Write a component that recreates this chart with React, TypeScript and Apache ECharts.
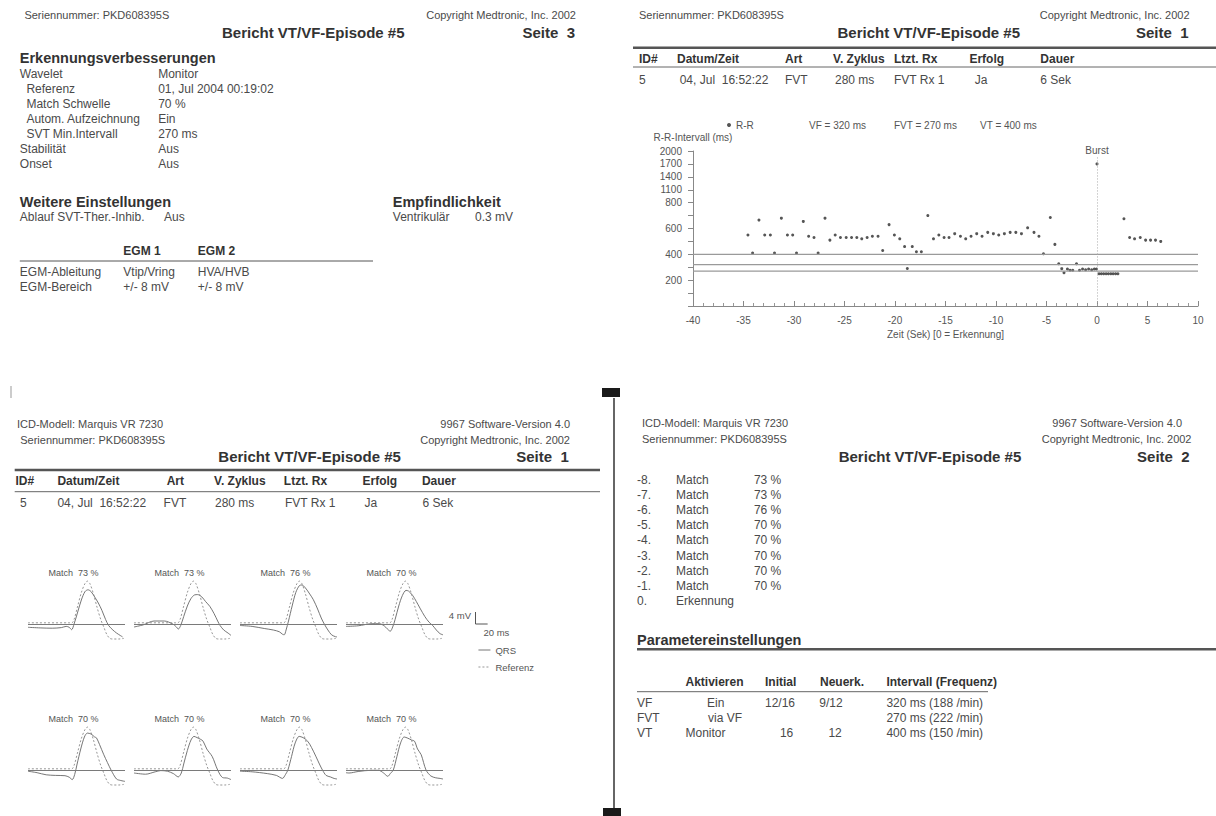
import React, { useEffect, useRef } from "react";
import * as echarts from "echarts";

// ---------- R-R interval plot data ----------
const rrTime = [
  -34.56, -34.1, -33.47, -32.9, -32.34, -31.93, -31.25, -30.65, -30.13, -29.75,
  -29.08, -28.55, -28.02, -27.61, -26.93, -26.45, -25.92, -25.4, -24.83, -24.3,
  -23.78, -23.29, -22.76, -22.24, -21.68, -21.22, -20.59, -20.06, -19.53, -19.05,
  -18.78, -18.29, -17.88, -17.39, -16.75, -16.19, -15.66, -15.14, -14.65, -14.09,
  -13.52, -13.0, -12.47, -11.91, -11.38, -10.82, -10.26, -9.73, -9.17, -8.6,
  -8.04, -7.48, -6.87, -6.24, -5.75, -5.3, -4.62, -4.17, -3.79, -3.49,
  -3.27, -2.93, -2.67, -2.4, -2.03, -1.73, -1.43, -1.13, -0.83, -0.53,
  -0.26, -0.04, 0.0, 0.2, 0.43, 0.66, 0.9, 1.13, 1.37, 1.6,
  1.84, 2.07, 2.67, 3.23, 3.72, 4.28, 4.81, 5.3, 5.79, 6.31,
];
const rrValue = [
  550, 410, 665, 550, 550, 410, 680, 550, 550, 410,
  655, 540, 530, 410, 680, 510, 550, 530, 530, 530,
  530, 520, 530, 540, 540, 430, 630, 550, 520, 460,
  290, 460, 420, 420, 700, 520, 550, 530, 530, 560,
  540, 520, 540, 560, 540, 570, 560, 550, 560, 570,
  570, 560, 605, 570, 540, 405, 685, 477, 327, 289,
  257, 286, 277, 277, 327, 277, 287, 280, 287, 280,
  287, 287, 1700, 250, 250, 250, 250, 250, 250, 250,
  250, 250, 675, 530, 520, 530, 510, 510, 510, 500,
];
const thresholdNames = ["VF = 320 ms", "FVT = 270 ms", "VT = 400 ms"];
const thresholdValues = [320, 270, 400];
const rrTickLabels = [200, 400, 600, 800, 1100, 1400, 1700, 2000];
const burstTime = 0;

// ---------- Wavelet match data ----------
const matchPercents = [73, 73, 76, 70, 70, 70, 70, 70];
const matchIndex = ["-8.", "-7.", "-6.", "-5.", "-4.", "-3.", "-2.", "-1."];

const referenceWave = [
  [0, 0.4], [68, 0.4], [72, 0.3], [76, 1.5], [82, 6], [88, 10.5], [94, 13.5],
  [98, 14.3], [102, 13.5], [108, 10], [114, 5.5], [120, 1.5], [125, -1],
  [130, -3.5], [135, -4.8], [140, -5], [150, -5], [158, -4.8],
];
const qrs1 = [
  [0, -1.1], [20, -1.3], [40, -1.4], [55, -1.2], [63, -0.8], [68, -1.1], [72, -1.9],
  [76, 0], [82, 4], [88, 8], [94, 10.8], [99, 11.4], [104, 10.8], [110, 9],
  [116, 7], [122, 4.5], [128, 1.5], [133, -0.5], [140, -2], [146, -3], [152, -3.8], [156, -4.3],
];
const qrs2 = [
  [0, -1.0], [15, -0.3], [33, 1.0], [50, 1.0], [64, 0], [70, -1.0], [73, -1.7],
  [77, -0.5], [82, 2.5], [88, 6], [94, 8.5], [100, 9.7], [105, 9.8], [112, 9],
  [118, 7.5], [125, 5.9], [132, 3.5], [138, 1], [142, -0.5], [148, -2], [155, -3], [160, -3.8],
];
const qrs3 = [
  [0, -0.5], [20, -0.8], [40, -1.5], [55, -2.0], [65, -2.6], [70, -3.4], [73, -3.6],
  [76, -2], [80, 1], [86, 6], [92, 10.5], [98, 12.8], [102, 13], [108, 12],
  [115, 10], [121, 8.1], [128, 5], [134, 2], [139, 0], [145, -2], [151, -3.6], [157, -4.2], [160, -4.3],
];
const qrs4 = [
  [0, -0.8], [20, -0.6], [43, 0.1], [55, 0.1], [63, -0.6], [68, -1.6], [73, -2.4],
  [77, -1], [81, 1.5], [87, 6], [93, 9.5], [99, 11.2], [103, 11], [110, 9.5],
  [116, 7.5], [122, 5.3], [130, 2.5], [137, 0.6], [143, -0.5], [149, -2], [155, -3.2], [160, -3.6],
];
const qrs5 = [
  [0, -0.4], [15, -0.9], [30, -1.6], [45, -1.8], [61, -1.9], [68, -2.4], [73, -3.2],
  [77, -1.5], [81, 2], [87, 7], [93, 11], [98, 12.3], [104, 12], [110, 11],
  [113, 10.7], [118, 8.5], [125, 5.1], [131, 2.5], [137, 0], [146, -3], [153, -3.5], [160, -3.8],
];
const qrs6 = [
  [0, -1], [19, -1.4], [35, -0.6], [44, -0.2], [55, -0.4], [65, -1.2], [73, -2.3],
  [78, -1], [82, 2], [88, 6.5], [94, 10], [99, 11.2], [104, 10.8], [110, 10.2],
  [114, 9.6], [120, 7], [129, 4.5], [138, 0], [146, -2.5], [154, -2.7], [160, -3.2],
];
const qrs7 = [
  [0, -0.4], [20, -0.6], [45, -1.2], [60, -1.8], [70, -2.8], [75, -1.5], [79, 0],
  [85, 4.5], [91, 9], [97.6, 11.2], [104, 10.8], [111.6, 9.6], [118, 7.5], [125, 4.6],
  [131, 2], [136, 0], [142, -1.8], [149, -2.3], [155, -2.8], [160, -3],
];
const qrs8 = [
  [0, -0.9], [5, -1], [20, -0.5], [41.5, -0.1], [53.7, -0.1], [62, -1], [69, -2.1],
  [73, -1.2], [78, 0], [84, 4.5], [90, 9], [96, 11], [102, 10.6], [108, 10],
  [113, 9.6], [118, 7], [124, 5.1], [132, 0], [140, -2], [148, -2.6], [155, -2.8], [160, -3],
];
const qrsPanels = [qrs1, qrs2, qrs3, qrs4, qrs5, qrs6, qrs7, qrs8];

// ---------- helpers ----------
const FONT = '"Liberation Sans", Arial, Helvetica, sans-serif';
const TXT = "#4a4a4a";
const DARK = "#333333";

// compressed R-R axis: linear up to 800 ms, then 3x compressed
const tf = (v: number) => (v <= 800 ? v : 800 + (v - 800) / 3);
const tfInv = (t: number) => (t <= 800 ? t : 800 + (t - 800) * 3);

function txt(x: number, y: number, text: string, size = 12, o: any = {}) {
  return {
    type: "text",
    x,
    y,
    silent: true,
    style: {
      text,
      fill: o.color || (o.bold ? DARK : TXT),
      fontSize: size,
      fontFamily: FONT,
      fontWeight: o.bold ? "bold" : "normal",
      align: o.align || "left",
      verticalAlign: "middle",
    },
  };
}
function hline(x1: number, x2: number, y: number, w = 1, c = "#555") {
  return { type: "line", silent: true, shape: { x1, y1: y, x2, y2: y }, style: { stroke: c, lineWidth: w } };
}
function vline(x: number, y1: number, y2: number, w = 1, c = "#555") {
  return { type: "line", silent: true, shape: { x1: x, y1, x2: x, y2 }, style: { stroke: c, lineWidth: w } };
}

export default function App() {
  const ref = useRef<HTMLDivElement>(null);
  useEffect(() => {
    if (!ref.current) return;
    const chart = echarts.init(ref.current, undefined, { renderer: "svg" });

    // waveform panel layout
    const panelLeft = [28, 134, 240, 346];
    const panelW = 97;
    const rowBase = [624, 770];
    const yMax = 15, yMin = -6, pxPerMv = 3;

    const grids: any[] = [{ left: 693, top: 151, width: 505, height: 155 }];
    const xAxes: any[] = [];
    const yAxes: any[] = [];
    xAxes.push({
      gridIndex: 0, type: "value", min: -40, max: 10, interval: 5,
      name: "Zeit (Sek) [0 = Erkennung]", nameLocation: "middle", nameGap: 23,
      nameTextStyle: { fontSize: 10, color: "#555", fontFamily: FONT },
      axisLine: { onZero: false, lineStyle: { color: "#888" } },
      axisTick: { inside: true, length: 5, lineStyle: { color: "#888" } },
      minorTick: { show: true, splitNumber: 5, length: 3, lineStyle: { color: "#999" } },
      axisLabel: { fontSize: 10, color: "#555", margin: 9, fontFamily: FONT },
      splitLine: { show: false },
    });
    yAxes.push({
      gridIndex: 0, type: "value", min: 0, max: tf(2000), interval: 100,
      name: "R-R-Intervall (ms)", nameLocation: "end", nameGap: 9,
      nameTextStyle: { fontSize: 10, color: "#555", fontFamily: FONT },
      axisLine: { show: true, onZero: false, lineStyle: { color: "#888" } },
      axisTick: { show: true, length: 5, lineStyle: { color: "#888" } },
      axisLabel: {
        fontSize: 10, color: "#555", margin: 11, fontFamily: FONT,
        formatter: (t: number) => {
          const v = Math.round(tfInv(t));
          return rrTickLabels.indexOf(v) >= 0 ? String(v) : "";
        },
      },
      splitLine: { show: false },
    });

    const series: any[] = [];
    series.push({
      name: "R-R", type: "scatter", xAxisIndex: 0, yAxisIndex: 0,
      symbol: "circle", symbolSize: 3,
      itemStyle: { color: "#2a2a2a" },
      data: rrTime.map((t, i) => [t, tf(rrValue[i])]),
      markLine: {
        silent: true, symbol: ["none", "none"],
        lineStyle: { color: "#aaa", type: [1, 2], width: 1 },
        label: { show: true, position: "start", formatter: "Burst", fontSize: 10, color: "#555", distance: 2, fontFamily: FONT },
        data: [[{ coord: [burstTime, tf(1850)] }, { coord: [burstTime, 0] }]],
      },
    });
    thresholdNames.forEach((n, i) => {
      series.push({
        name: n, type: "line", xAxisIndex: 0, yAxisIndex: 0, symbol: "none",
        lineStyle: { color: "#9a9a9a", width: 1.2 },
        data: [[-40, tf(thresholdValues[i])], [10, tf(thresholdValues[i])]],
      });
    });

    const graphics: any[] = [];

    qrsPanels.forEach((wave, p) => {
      const row = p < 4 ? 0 : 1;
      const col = p % 4;
      const top = rowBase[row] - yMax * pxPerMv;
      const gi = p + 1;
      grids.push({ left: panelLeft[col], top, width: panelW, height: (yMax - yMin) * pxPerMv });
      xAxes.push({ gridIndex: gi, type: "value", min: 0, max: 160, show: false });
      yAxes.push({ gridIndex: gi, type: "value", min: yMin, max: yMax, show: false });
      series.push({
        name: "QRS", type: "line", xAxisIndex: gi, yAxisIndex: gi, symbol: "none", smooth: 0.3,
        lineStyle: { color: "#666", width: 0.9 }, itemStyle: { color: "#666" },
        data: wave,
        markLine: {
          silent: true, symbol: ["none", "none"], label: { show: false },
          lineStyle: { color: "#7a7a7a", width: 1, type: "solid" },
          data: [{ yAxis: 0 }],
        },
      });
      series.push({
        name: "Referenz", type: "line", xAxisIndex: gi, yAxisIndex: gi, symbol: "none", smooth: 0.3,
        lineStyle: { color: "#8a8a8a", width: 0.9, type: [2, 2] }, itemStyle: { color: "#8a8a8a" },
        data: referenceWave,
      });
      graphics.push(
        txt(panelLeft[col] + panelW / 2 - 3, rowBase[row] - 51, `Match  ${matchPercents[p]} %`, 9, { color: "#555", align: "center" })
      );
    });

    // scale bar for the waveforms
    graphics.push({
      type: "polyline", silent: true,
      shape: { points: [[475.5, 624 - 4 * pxPerMv], [475.5, 624], [475.5 + 20 * (panelW / 160), 624]] },
      style: { stroke: "#555", lineWidth: 1, fill: "none" },
    });
    graphics.push(txt(471, 615, "4 mV", 9.5, { color: "#555", align: "right" }));
    graphics.push(txt(483.5, 632.5, "20 ms", 9.5, { color: "#555" }));

    // ---- Page 3 (top left) ----
    graphics.push(
      txt(24.4, 15.3, "Seriennummer: PKD608395S", 11),
      txt(576, 15.3, "Copyright Medtronic, Inc. 2002", 11, { align: "right" }),
      txt(222, 32, "Bericht VT/VF-Episode #5", 15, { bold: true }),
      txt(575, 32, "Seite  3", 15, { bold: true, align: "right" }),
      txt(19.8, 58.3, "Erkennungsverbesserungen", 14.5, { bold: true })
    );
    const p3Labels = ["Wavelet", "Referenz", "Match Schwelle", "Autom. Aufzeichnung", "SVT Min.Intervall", "Stabilität", "Onset"];
    const p3Indent = [0, 1, 1, 1, 1, 0, 0];
    const p3Values = ["Monitor", "01, Jul 2004 00:19:02", "70 %", "Ein", "270 ms", "Aus", "Aus"];
    p3Labels.forEach((l, i) => {
      const y = 73.7 + i * 15;
      graphics.push(txt(p3Indent[i] ? 26.4 : 19.8, y, l, 12), txt(158.2, y, p3Values[i], 12));
    });
    graphics.push(
      txt(19.8, 201.7, "Weitere Einstellungen", 14.5, { bold: true }),
      txt(19.8, 217.3, "Ablauf SVT-Ther.-Inhib.", 12),
      txt(164, 217.3, "Aus", 12),
      txt(392.8, 201.7, "Empfindlichkeit", 14.5, { bold: true }),
      txt(392.8, 217.3, "Ventrikulär", 12),
      txt(475, 217.3, "0.3 mV", 12),
      txt(123.3, 251.3, "EGM 1", 12, { bold: true }),
      txt(197.8, 251.3, "EGM 2", 12, { bold: true }),
      hline(19.8, 373, 261, 1, "#555"),
      txt(19.8, 272, "EGM-Ableitung", 12),
      txt(123.3, 272, "Vtip/Vring", 12),
      txt(197.8, 272, "HVA/HVB", 12),
      txt(19.8, 287, "EGM-Bereich", 12),
      txt(123.3, 287, "+/- 8 mV", 12),
      txt(197.8, 287, "+/- 8 mV", 12)
    );

    // ---- Page 1 header (top right) ----
    const epHeaders = ["ID#", "Datum/Zeit", "Art", "V. Zyklus", "Ltzt. Rx", "Erfolg", "Dauer"];
    const epValues = ["5", "04, Jul  16:52:22", "FVT", "280 ms", "FVT Rx 1", "Ja", "6 Sek"];
    const trHeadX = [639, 677, 785, 833, 894, 969.4, 1040.3];
    const trValX = [639, 679.7, 785, 835, 894, 974.8, 1040.3];
    graphics.push(
      txt(639, 15.3, "Seriennummer: PKD608395S", 11),
      txt(1189.6, 15.3, "Copyright Medtronic, Inc. 2002", 11, { align: "right" }),
      txt(837.5, 32.3, "Bericht VT/VF-Episode #5", 15, { bold: true }),
      txt(1188.5, 32.3, "Seite  1", 15, { bold: true, align: "right" }),
      hline(633, 1216, 47.7, 2.5, "#555"),
      hline(633, 1216, 67, 1, "#666")
    );
    epHeaders.forEach((h, i) => graphics.push(txt(trHeadX[i], 58.7, h, 12, { bold: true })));
    epValues.forEach((v, i) => graphics.push(txt(trValX[i], 80.3, v, 12)));

    // ---- Page 1 (bottom left) ----
    const blHeadX = [15.5, 57.4, 166.7, 214, 283.8, 362.5, 421.9];
    const blValX = [20, 57.4, 163.6, 215, 285, 364.5, 422.6];
    graphics.push(
      txt(17, 423.7, "ICD-Modell: Marquis VR 7230", 11),
      txt(20.2, 440, "Seriennummer: PKD608395S", 11),
      txt(570, 423.7, "9967 Software-Version 4.0", 11, { align: "right" }),
      txt(570, 440, "Copyright Medtronic, Inc. 2002", 11, { align: "right" }),
      txt(218.3, 456.3, "Bericht VT/VF-Episode #5", 15, { bold: true }),
      txt(568.8, 456.3, "Seite  1", 15, { bold: true, align: "right" }),
      hline(14.7, 600, 470, 2.5, "#555"),
      hline(14.7, 600, 491.7, 1, "#666")
    );
    epHeaders.forEach((h, i) => graphics.push(txt(blHeadX[i], 481.3, h, 12, { bold: true })));
    epValues.forEach((v, i) => graphics.push(txt(blValX[i], 503.3, v, 12)));

    // ---- Page 2 (bottom right) ----
    graphics.push(
      txt(642, 423.3, "ICD-Modell: Marquis VR 7230", 11),
      txt(642, 439.3, "Seriennummer: PKD608395S", 11),
      txt(1182, 423.3, "9967 Software-Version 4.0", 11, { align: "right" }),
      txt(1191.5, 439.3, "Copyright Medtronic, Inc. 2002", 11, { align: "right" }),
      txt(838.7, 456.7, "Bericht VT/VF-Episode #5", 15, { bold: true }),
      txt(1189.6, 456.7, "Seite  2", 15, { bold: true, align: "right" })
    );
    matchIndex.forEach((m, i) => {
      const y = 480 + i * 15.1;
      graphics.push(txt(637, y, m, 12), txt(676, y, "Match", 12), txt(781.3, y, `${matchPercents[i]} %`, 12, { align: "right" }));
    });
    graphics.push(txt(637, 480 + 8 * 15.1, "0.", 12), txt(676, 480 + 8 * 15.1, "Erkennung", 12));
    graphics.push(
      txt(637, 640, "Parametereinstellungen", 14.5, { bold: true }),
      hline(637, 1216, 649.3, 2.5, "#555"),
      txt(685.5, 682.3, "Aktivieren", 12, { bold: true }),
      txt(765, 682.3, "Initial", 12, { bold: true }),
      txt(820, 682.3, "Neuerk.", 12, { bold: true }),
      txt(886.4, 682.3, "Intervall (Frequenz)", 12, { bold: true }),
      hline(637, 988, 691.7, 1, "#666"),
      txt(637, 703.3, "VF", 12), txt(707, 703.3, "Ein", 12), txt(765, 703.3, "12/16", 12),
      txt(819.3, 703.3, "9/12", 12), txt(886.4, 703.3, "320 ms (188 /min)", 12),
      txt(637, 718.3, "FVT", 12), txt(708, 718.3, "via VF", 12), txt(886.4, 718.3, "270 ms (222 /min)", 12),
      txt(637, 733.3, "VT", 12), txt(685.5, 733.3, "Monitor", 12), txt(793.3, 733.3, "16", 12, { align: "right" }),
      txt(841.8, 733.3, "12", 12, { align: "right" }), txt(886.4, 733.3, "400 ms (150 /min)", 12)
    );

    // page frame marks
    graphics.push(
      vline(614, 398, 816, 1.5, "#333"),
      { type: "rect", silent: true, shape: { x: 602, y: 388, width: 18, height: 9 }, style: { fill: "#1a1a1a" } },
      { type: "rect", silent: true, shape: { x: 603, y: 808, width: 18, height: 8 }, style: { fill: "#1a1a1a" } },
      vline(11, 386, 398, 1, "#999")
    );

    const legendBase = { padding: 0, textStyle: { fontSize: 10, color: "#555", fontFamily: FONT } };
    chart.setOption({
      animation: false,
      backgroundColor: "#ffffff",
      legend: [
        { ...legendBase, left: 727, top: 120, itemWidth: 4, itemHeight: 4, data: [{ name: "R-R", icon: "circle" }], itemStyle: { color: "#2a2a2a" } },
        { ...legendBase, left: 804, top: 120, itemWidth: 0, itemHeight: 4, data: [{ name: thresholdNames[0], icon: "none" }] },
        { ...legendBase, left: 889, top: 120, itemWidth: 0, itemHeight: 4, data: [{ name: thresholdNames[1], icon: "none" }] },
        { ...legendBase, left: 975, top: 120, itemWidth: 0, itemHeight: 4, data: [{ name: thresholdNames[2], icon: "none" }] },
        {
          ...legendBase, left: 478, top: 645, orient: "vertical", itemWidth: 12, itemHeight: 8, itemGap: 7,
          itemStyle: { opacity: 0 },
          lineStyle: { width: 0.9 },
          textStyle: { fontSize: 9.5, color: "#555", fontFamily: FONT },
          data: ["QRS", "Referenz"],
        },
      ],
      grid: grids,
      xAxis: xAxes,
      yAxis: yAxes,
      series,
      graphic: graphics,
    });
    return () => chart.dispose();
  }, []);
  return <div ref={ref} style={{ position: "absolute", left: 0, top: 0, width: 1216, height: 816 }} />;
}
